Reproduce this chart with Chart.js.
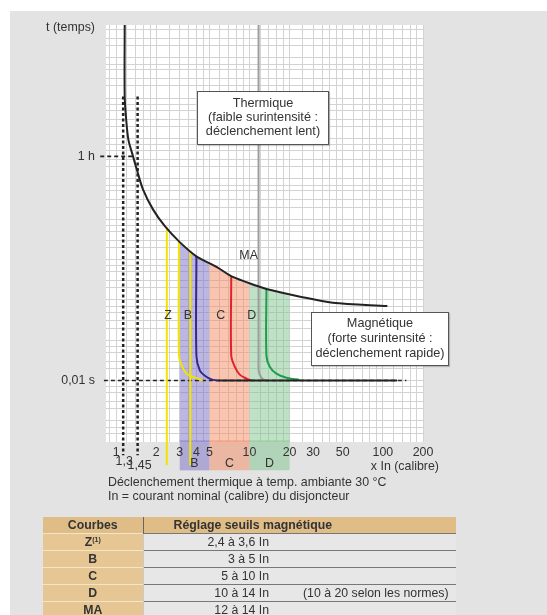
<!DOCTYPE html>
<html lang="fr">
<head>
<meta charset="utf-8">
<script src="https://cdn.jsdelivr.net/npm/chart.js@4.4.1/dist/chart.umd.min.js"></script>
<style>
  html, body { margin: 0; padding: 0; background: #fff; }
  body { width: 547px; height: 615px; position: relative; overflow: hidden;
         font-family: "Liberation Sans", Arial, sans-serif; color: #333; }
  #bg { position: absolute; left: 10px; top: 11px; right: 0; bottom: 0; background: #e3e3e3; }
  #wrap { position: absolute; left: 0; top: 0; width: 547px; height: 480px; }
  .txt { position: absolute; font-size: 12.4px; line-height: 14px; white-space: nowrap; }
  .box { position: absolute; background: #fff; border: 1px solid #555; box-sizing: border-box;
         box-shadow: 1px 1px 1px rgba(0,0,0,0.2); text-align: center; font-size: 12.7px; white-space: nowrap; }
  #tab { position: absolute; left: 43px; top: 517px; width: 413px; border-collapse: collapse;
         font-size: 12.3px; table-layout: fixed; }
  #tab td, #tab th { padding: 0; height: 16px; line-height: 16px; white-space: nowrap; }
  #tab th { background: #e0bd86; font-weight: bold; text-align: left; }
  #tab th.c1 { text-align: center; border-right: 1px solid #666; }
  #tab td.c1 { background: #e6c794; font-weight: bold; text-align: center; border-top: 1px solid #f3e4cc; border-right: 1px solid #c9c9c9; }
  #tab td.c2, #tab td.c3 { background: #e7e7e7; border-top: 1px solid #777; }
  #tab td.c2 { text-align: right; }
  #tab td.c3 { padding-left: 34px; }
  #tab sup { font-size: 7px; line-height: 0; vertical-align: 4px; }
</style>
</head>
<body>
<div id="bg"></div>
<div id="wrap"><canvas id="chart" width="547" height="480"></canvas></div>

<div class="txt" style="left:0; width:95px; text-align:right; top:20px;">t (temps)</div>
<div class="txt" style="left:300px; width:139px; text-align:right; top:459px;">x In (calibre)</div>
<div class="txt" style="left:108px; top:475px;">Déclenchement thermique à temp. ambiante 30 °C</div>
<div class="txt" style="left:108px; top:489px;">In = courant nominal (calibre) du disjoncteur</div>

<div class="box" style="left:197px; top:91px; width:132px; height:54px; padding-top:4px; line-height:14px;">
  Thermique<br>(faible surintensité :<br>déclenchement lent)
</div>
<div class="box" style="left:311px; top:312px; width:138px; height:54px; padding-top:3px; line-height:15px;">
  Magnétique<br>(forte surintensité :<br>déclenchement rapide)
</div>

<table id="tab"></table>

<script>
// bornes des axes (x en multiples de In, t en secondes)
const X_MIN = 0.84, X_MAX = 200;
const Y_MIN = 3.3e-4, Y_MAX = 6.5e6;

const xTickValues = [1, 2, 3, 4, 5, 10, 20, 30, 50, 100, 200];
const yTickValues = [0.01, 3600];
const yTickTexts = ['0,01 s', '1 h'];
// lignes du papier log dans chaque décade
const xGridSteps = [1, 1.2, 1.4, 1.6, 1.8, 2, 2.5, 3, 3.5, 4, 4.5, 5, 6, 7, 8, 9];
const yGridSteps = [1, 2, 3, 5, 7];

// courbe thermique
const thermX = [1.16, 1.16, 1.19, 1.236, 1.34, 1.43, 1.59, 1.89, 2.32, 3.0, 4.0, 5.7, 7.5, 11.5, 13.4, 24, 42, 108];
const thermY = [6.5e6, 1.1e5, 3e4, 9400, 3600, 1700, 550, 175, 67, 27, 12, 6.5, 3.7, 2.2, 1.86, 1.2, 0.85, 0.7];

// courbes magnétiques
const zX = [2.96, 2.96, 3.1, 3.38, 3.89, 4.47];
const zY = [27, 0.041, 0.0234, 0.0148, 0.0118, 0.01];
const bX = [4.0, 4.0, 4.24, 4.63, 5.19, 5.78];
const bY = [12, 0.041, 0.0179, 0.0132, 0.0107, 0.01];
const cX = [7.3, 7.3, 7.75, 8.45, 9.48, 10.3];
const cY = [3.7, 0.041, 0.0221, 0.014, 0.0112, 0.0101];
const dX = [13.4, 13.4, 14.2, 15.9, 18.9, 23.7];
const dY = [1.86, 0.041, 0.0221, 0.0148, 0.0118, 0.0104];
const maX = [11.7, 11.7, 11.75, 12.27, 13.0];
const maY = [6.5e6, 0.04, 0.0166, 0.0118, 0.0101];

// limites Z (2,4 et 3,6 In)
const zLowX = [2.4, 2.4], zLowY = [63, 8e-5];
const zHighX = [3.6, 3.6], zHighY = [16.5, 8e-5];

// zones B, C, D (haut = courbe thermique)
const bandBX = [3, 3.5, 4, 4.5, 5], bandBY = [27, 18, 12, 9.7, 8.2];
const bandCX = [5, 6, 7.5, 8.5, 10], bandCY = [8.2, 5.8, 3.7, 2.9, 2.47];
const bandDX = [10, 12, 14, 17, 20], bandDY = [2.47, 2.15, 1.82, 1.48, 1.25];
const stripY = 1.4e-4; // bande sous l'axe

// repères pointillés
const conv1X = [1.13, 1.13], conv2X = [1.45, 1.45], convY = [1.1e5, 1.4e-4];
const hourX = [0.76, 1.34], hourY = [3600, 3600];
const instDashX = [0.81, 150], instSolidX = [5.8, 128], instY = [0.01, 0.01];

// étiquettes
const curveLabels = ['Z', 'B', 'C', 'D', 'MA'];
const curveLabelX = [2.45, 3.45, 6.1, 10.4, 9.86];
const curveLabelY = [0.4, 0.4, 0.4, 0.4, 12.2];
const zoneLabels = ['B', 'C', 'D'];
const zoneLabelX = [3.87, 7.07, 14.1];
const zoneLabelY = 8.9e-5;
const convLabels = ['1,3', '1,45'];
const convLabelX = [1.15, 1.5];
const convLabelY = [1.0e-4, 7.6e-5];

// tableau
const tabCurves = ['Z<sup>(1)</sup>', 'B', 'C', 'D', 'MA'];
const tabRanges = ['2,4 à 3,6 In', '3 à 5 In', '5 à 10 In', '10 à 14 In', '12 à 14 In'];
const tabNotes = ['', '', '', '(10 à 20 selon les normes)', ''];

const FONT = '"Liberation Sans", Arial, sans-serif';
const pts = (xs, ys) => xs.map((x, i) => ({ x, y: Array.isArray(ys) ? ys[i] : ys }));
const near = (a, b) => Math.abs(Math.log10(a / b)) < 1e-6;

function logGrid(min, max, steps) {
  const out = [];
  for (let e = Math.floor(Math.log10(min)); e <= Math.ceil(Math.log10(max)); e++) {
    steps.forEach(m => {
      const v = m * Math.pow(10, e);
      if (v >= min && v <= max) out.push(v);
    });
  }
  return out;
}

function line(xs, ys, color, width, extra) {
  return Object.assign({
    data: pts(xs, ys), borderColor: color, borderWidth: width,
    pointRadius: 0, fill: false, tension: 0.3, clip: false
  }, extra || {});
}

function band(xs, ys, color) {
  return { data: pts(xs, ys), borderWidth: 0, borderColor: 'transparent', backgroundColor: color,
           pointRadius: 0, fill: 'start', tension: 0.3 };
}

function strip(xs, color) {
  return { data: pts(xs, stripY), borderColor: color, borderWidth: 30, borderCapStyle: 'butt',
           pointRadius: 0, fill: false, clip: false };
}

const PURPLE = 'rgba(120,110,198,0.5)';
const SALMON = 'rgba(243,140,100,0.5)';
const GREEN = 'rgba(128,196,140,0.5)';

const datasets = [
  line(thermX, thermY, '#222', 2),
  line(instSolidX, instY, '#222', 2, { tension: 0 }),
  line(zX, zY, '#f2e300', 2),
  line(bX, bY, '#352a8a', 2),
  line(cX, cY, '#e2222b', 2),
  line(dX, dY, '#1f9c4f', 2),
  line(maX, maY, '#9d9d9d', 2),
  line(zLowX, zLowY, '#f2e300', 2, { tension: 0 }),
  line(zHighX, zHighY, '#f2e300', 2, { tension: 0 }),
  line(instDashX, instY, '#222', 1.6, { tension: 0, borderDash: [4, 3] }),
  line(hourX, hourY, '#222', 1.6, { tension: 0, borderDash: [4, 3] }),
  line(conv1X, convY, '#222', 2.5, { tension: 0, borderDash: [3, 2.5] }),
  line(conv2X, convY, '#222', 2.5, { tension: 0, borderDash: [3, 2.5] }),
  band(bandBX, bandBY, PURPLE),
  band(bandCX, bandCY, SALMON),
  band(bandDX, bandDY, GREEN),
  strip([3, 5], PURPLE),
  strip([5, 10], SALMON),
  strip([10, 20], GREEN)
];

const decor = {
  id: 'decor',
  beforeDraw(chart) {
    const { ctx, chartArea: a } = chart;
    ctx.save();
    ctx.fillStyle = '#fff';
    ctx.fillRect(a.left, a.top, a.right - a.left, a.bottom - a.top);
    ctx.restore();
  },
  afterDatasetsDraw(chart) {
    const { ctx, scales: { x, y } } = chart;
    ctx.save();
    ctx.fillStyle = '#333';
    ctx.font = '12.4px ' + FONT;
    ctx.textAlign = 'center';
    ctx.textBaseline = 'middle';
    curveLabels.forEach((t, i) => ctx.fillText(t, x.getPixelForValue(curveLabelX[i]), y.getPixelForValue(curveLabelY[i])));
    zoneLabels.forEach((t, i) => ctx.fillText(t, x.getPixelForValue(zoneLabelX[i]), y.getPixelForValue(zoneLabelY)));
    convLabels.forEach((t, i) => ctx.fillText(t, x.getPixelForValue(convLabelX[i]), y.getPixelForValue(convLabelY[i])));
    ctx.restore();
  }
};

new Chart(document.getElementById('chart'), {
  type: 'line',
  data: { datasets },
  options: {
    responsive: false,
    animation: false,
    layout: { padding: { left: 46, top: 25, right: 124, bottom: 18 } },
    plugins: { legend: { display: false }, tooltip: { enabled: false } },
    scales: {
      x: {
        type: 'logarithmic', min: X_MIN, max: X_MAX,
        afterFit: s => { s.height = 20; },
        afterBuildTicks: s => { s.ticks = logGrid(X_MIN, X_MAX, xGridSteps).map(v => ({ value: v })); },
        border: { display: false },
        grid: { color: '#d3d3d3', lineWidth: 1, drawTicks: false },
        ticks: {
          z: 1, autoSkip: false, maxRotation: 0, padding: 3, color: '#333',
          font: { family: FONT, size: 12.4 },
          callback: v => xTickValues.some(t => near(t, v)) ? String(v) : ''
        }
      },
      y: {
        type: 'logarithmic', min: Y_MIN, max: Y_MAX,
        afterFit: s => { s.width = 60; },
        afterBuildTicks: s => {
          s.ticks = logGrid(Y_MIN, Y_MAX, yGridSteps).concat([3600]).sort((a, b) => a - b).map(v => ({ value: v }));
        },
        border: { display: false },
        grid: {
          lineWidth: 1, drawTicks: false,
          color: c => (c.tick && near(c.tick.value, 3600)) ? 'rgba(0,0,0,0)' : '#d3d3d3'
        },
        ticks: {
          autoSkip: false, padding: 11, color: '#333',
          font: { family: FONT, size: 12.4 },
          callback: v => {
            const i = yTickValues.findIndex(t => near(t, v));
            return i >= 0 ? yTickTexts[i] : '';
          }
        }
      }
    }
  },
  plugins: [decor]
});

// tableau des seuils
document.getElementById('tab').innerHTML =
  '<colgroup><col style="width:100px"><col style="width:126px"><col></colgroup>' +
  '<tr><th class="c1">Courbes</th><th colspan="2" style="padding-left:30px">Réglage seuils magnétique</th></tr>' +
  tabCurves.map((c, i) =>
    `<tr><td class="c1">${c}</td><td class="c2">${tabRanges[i]}</td><td class="c3">${tabNotes[i]}</td></tr>`
  ).join('');
</script>
</body>
</html>
